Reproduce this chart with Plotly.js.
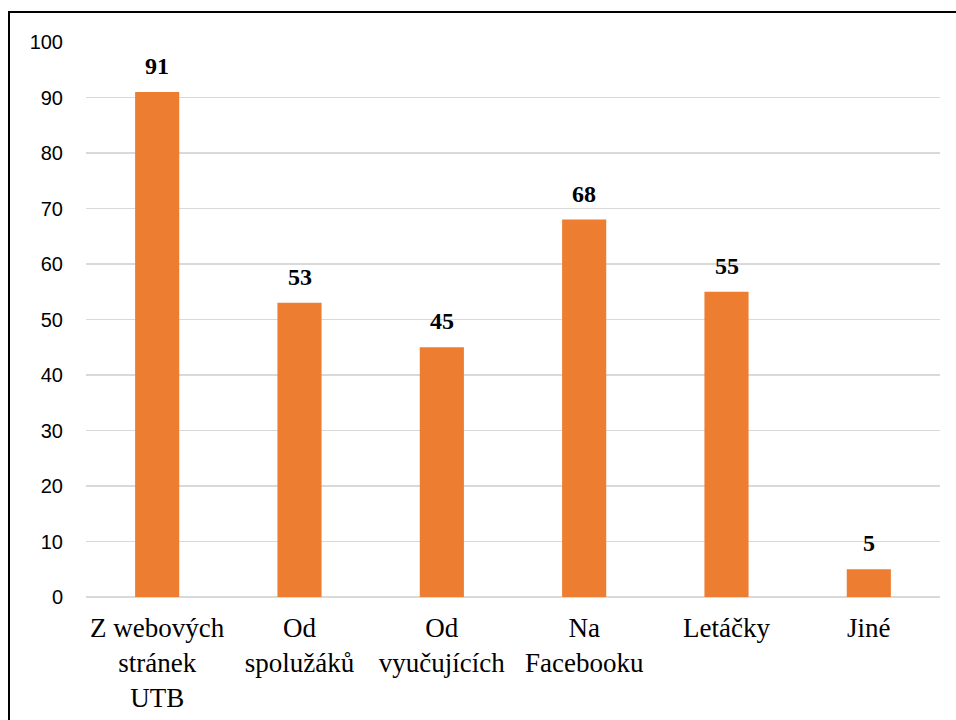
<!DOCTYPE html>
<html>
<head>
<meta charset="utf-8">
<script src="https://cdn.plot.ly/plotly-3.0.1.min.js"></script>
<style>
  html, body { margin: 0; padding: 0; background: #fff; overflow: hidden; }
  #chart { position: absolute; left: 0; top: 0; width: 956px; height: 720px; }
  #frame { position: absolute; left: 8px; top: 11px; width: 980px; height: 760px;
           border-left: 2.5px solid #000; border-top: 2.5px solid #000; pointer-events: none; }
</style>
</head>
<body>
<div id="chart"></div>
<div id="frame"></div>
<script>
const categories = ["Z webových<br>stránek<br>UTB", "Od<br>spolužáků", "Od<br>vyučujících", "Na<br>Facebooku", "Letáčky", "Jiné"];
const values = [91, 53, 45, 68, 55, 5];
const yTicks = [0, 10, 20, 30, 40, 50, 60, 70, 80, 90, 100];

const serif = "Liberation Serif";

const trace = {
  type: "bar",
  x: categories,
  y: values,
  marker: { color: "#ED7D31" },
  width: 0.31,
  hoverinfo: "skip"
};

const annotations = values.map((v, i) => ({
  x: categories[i],
  y: v,
  xref: "x",
  yref: "y",
  text: "<b>" + v + "</b>",
  showarrow: false,
  yanchor: "bottom",
  yshift: 11,
  font: { family: serif, size: 24, color: "#000" }
}));

const layout = {
  width: 956,
  height: 720,
  margin: { l: 86, r: 16, t: 42, b: 123 },
  paper_bgcolor: "#fff",
  plot_bgcolor: "#fff",
  showlegend: false,
  font: { family: serif, color: "#000" },
  xaxis: {
    type: "category",
    tickfont: { family: serif, size: 27, color: "#000" },
    ticks: "",
    showline: false,
    showgrid: false,
    zeroline: false,
    ticklabelstandoff: 12
  },
  yaxis: {
    range: [0, 100],
    tickvals: yTicks,
    ticktext: yTicks.map(String),
    tickfont: { family: "Liberation Sans", size: 20, color: "#000" },
    showgrid: true,
    gridcolor: "#d9d9d9",
    gridwidth: 1.3,
    zeroline: true,
    zerolinecolor: "#d9d9d9",
    zerolinewidth: 1.3,
    ticks: "",
    ticklabelstandoff: 22,
    showline: false
  },
  annotations: annotations
};

Plotly.newPlot("chart", [trace], layout, { displayModeBar: false, staticPlot: true });
</script>
</body>
</html>
